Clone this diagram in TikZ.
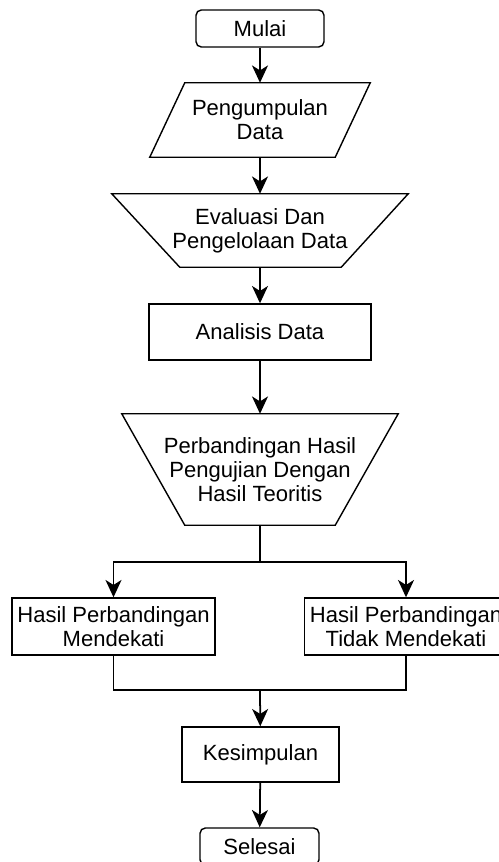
\documentclass[tikz,border=0pt]{standalone}
\usepackage{fontspec}
\setmainfont{Liberation Sans}
\usetikzlibrary{calc,arrows.meta}

\begin{document}
\begin{tikzpicture}[x=0.3mm, y=-0.3mm,
    font=\fontsize{18.8}{20.5}\selectfont,
    block/.style={draw, line width=1.2pt, align=center, inner sep=0pt},
    shapebox/.style={align=center, inner sep=0pt},
    outline/.style={line width=1.2pt, line join=miter},
    flow/.style={line width=1.5pt, -{Stealth[length=5.2mm, width=4.8mm, inset=1.5mm]}},
    wire/.style={line width=1.5pt}]

  \useasboundingbox (0,0) rectangle (499,862);

  % Start
  \node[block, rounded corners=1.6mm, minimum width=38.4mm, minimum height=11.1mm] (mulai) at (260,28.5) {Mulai};

  % Input data (parallelogram)
  \node[shapebox, minimum width=66mm, minimum height=22.2mm] (kumpul) at (260,120) {Pengumpulan\\Data};
  \draw[outline] ($(kumpul.north west)+(35,0)$) -- (kumpul.north east)
    -- ($(kumpul.south east)-(35,0)$) -- (kumpul.south west) -- cycle;

  % Manual operation (trapezium)
  \node[shapebox, minimum width=88.8mm, minimum height=21.9mm] (evaluasi) at (260,230.5) {Evaluasi Dan\\Pengelolaan Data};
  \draw[outline] (evaluasi.north west) -- (evaluasi.north east)
    -- ($(evaluasi.south east)-(67,0)$) -- ($(evaluasi.south west)+(68,0)$) -- cycle;

  % Process
  \node[block, minimum width=66.6mm, minimum height=16.8mm] (analisis) at (260,332) {Analisis Data};

  % Comparison (trapezium)
  \node[shapebox, minimum width=82.8mm, minimum height=33.3mm] (banding) at (260,469.5) {Perbandingan Hasil\\Pengujian Dengan\\Hasil Teoritis};
  \draw[outline] (banding.north west) -- (banding.north east)
    -- ($(banding.south east)-(63,0)$) -- ($(banding.south west)+(63,0)$) -- cycle;

  % Results
  \node[block, minimum width=60.9mm, minimum height=17.1mm] (dekat) at (113.5,626.5) {Hasil Perbandingan\\Mendekati};
  \node[block, minimum width=60.9mm, minimum height=17.1mm] (tidak) at (406,626.5) {Hasil Perbandingan\\Tidak Mendekati};

  % Conclusion and end
  \node[block, minimum width=47.1mm, minimum height=16.5mm] (simpul) at (260.5,754.5) {Kesimpulan};
  \node[block, rounded corners=1.6mm, minimum width=35.7mm, minimum height=11.1mm] (selesai) at (259.5,846.5) {Selesai};

  \coordinate (split) at (260,562);
  \coordinate (join) at (260,690);

  % Connectors
  \draw[flow] (mulai) -- (kumpul);
  \draw[flow] (kumpul) -- (evaluasi);
  \draw[flow] (evaluasi) -- (analisis);
  \draw[flow] (analisis) -- (banding);
  \draw[wire] (banding.south) -- (split);
  \draw[flow] (split) -| (dekat.north);
  \draw[flow] (split) -| (tidak.north);
  \draw[wire] (dekat.south) |- (join);
  \draw[wire] (tidak.south) |- (join);
  \draw[flow] (join) -- (simpul);
  \draw[flow] (simpul) -- (selesai);

\end{tikzpicture}
\end{document}
